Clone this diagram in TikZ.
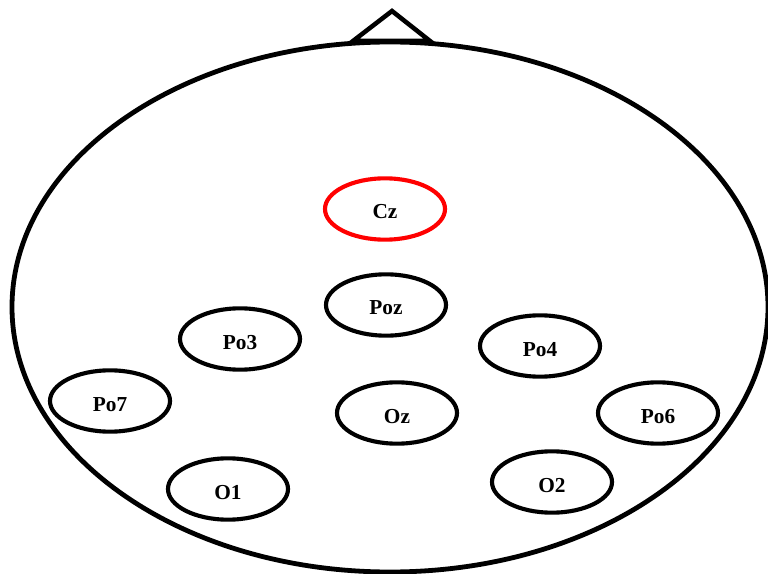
\documentclass[tikz,border=0pt]{standalone}
\usepackage{fontspec}
\setmainfont{Liberation Serif}
\usetikzlibrary{shapes.geometric}
\begin{document}
\begin{tikzpicture}[x=0.75pt,y=-0.75pt,
  electrode/.style={shape=ellipse, draw=black, line width=3.1pt, minimum width=90pt, minimum height=46pt, inner sep=0pt, text height=15pt, text depth=0pt, font=\bfseries\fontsize{16}{18}\selectfont},
  refelectrode/.style={electrode, draw=red}]
\useasboundingbox (0,0) rectangle (768,574);
% head outline and nose
\draw[line width=3.6pt] (390,307) ellipse [x radius=378, y radius=265];
\draw[line width=3.4pt, line join=miter] (353,41) -- (392,11) -- (430,41) -- cycle;
% electrodes
\node[refelectrode] (cz) at (385,209) {Cz};
\node[electrode] (poz) at (386,305) {Poz};
\node[electrode] (po3) at (240,339) {Po3};
\node[electrode] (po4) at (540,346) {Po4};
\node[electrode] (po7) at (110,401) {Po7};
\node[electrode] (oz) at (397,413) {Oz};
\node[electrode] (po6) at (658,413) {Po6};
\node[electrode] (o1) at (228,489) {O1};
\node[electrode] (o2) at (552,482) {O2};
\end{tikzpicture}
\end{document}
